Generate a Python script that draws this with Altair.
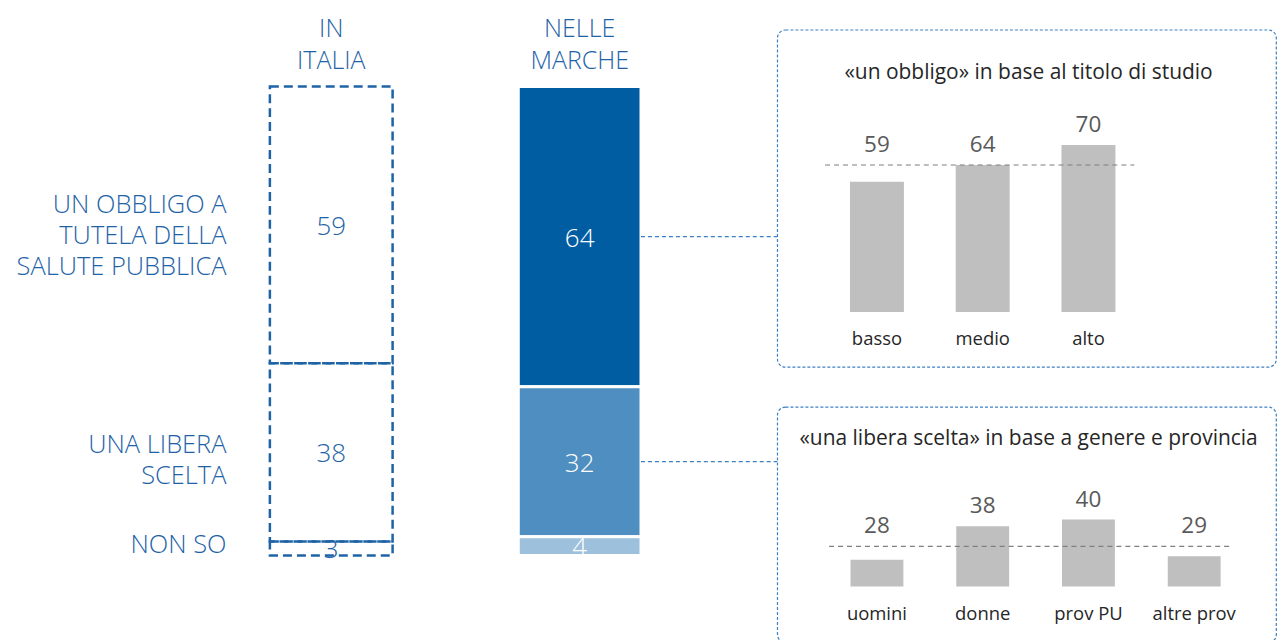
import altair as alt
import pandas as pd

# ---------------- data ----------------
groups = ["IN ITALIA", "NELLE MARCHE"]
answers = ["obbligo", "libera", "nonso"]
answer_labels = ["UN OBBLIGO A\nTUTELA DELLA\nSALUTE PUBBLICA", "UNA LIBERA\nSCELTA", "NON SO"]
italia_vals = [59, 38, 3]
marche_vals = [64, 32, 4]

edu_cats = ["basso", "medio", "alto"]
edu_vals = [59, 64, 70]
edu_title = "«un obbligo» in base al titolo di studio"

gp_cats = ["uomini", "donne", "prov PU", "altre prov"]
gp_vals = [28, 38, 40, 29]
gp_title = "«una libera scelta» in base a genere e provincia"

# ---------------- style ----------------
BLUE = "#1f63a7"
MARCHE_COLORS = ["#005da2", "#4f8ec0", "#9dc0dd"]
BOX = "#3d80c3"
GREY_BAR = "#bfbfbf"
FONT = "Open Sans"
BIG = 26
HEAD_FS = 25
LABEL_FS = 25.5
LABEL_LH = 31
HEAD_LH = 32


def stacked(group, vals):
    rows = []
    acc = 0
    for a, lab, v in zip(answers, answer_labels, vals):
        rows.append(dict(group=group, answer=a, label=lab, value=v,
                         start=acc, end=acc + v, mid=acc + v / 2))
        acc += v
    return pd.DataFrame(rows)


ita = stacked(groups[0], italia_vals)
mar = stacked(groups[1], marche_vals)

# ---------------- left part ----------------
LEFT_W = 770
LEFT_H = 547
PX = 4.7
xs = alt.Scale(domain=groups, range=[198.5, 696.5], paddingInner=0.506, paddingOuter=0.253)
ys = alt.Scale(domain=[-77 / PX, 100], reverse=True, nice=False, zero=False)

ita_bars = alt.Chart(ita).mark_bar(
    fill="transparent", stroke=BLUE, strokeWidth=2.5, strokeDash=[9, 5]
).encode(
    x=alt.X("group:N", scale=xs, axis=None),
    y=alt.Y("start:Q", scale=ys, axis=None),
    y2="end:Q",
)

mar_bars = alt.Chart(mar).mark_bar(stroke="white", strokeWidth=3).encode(
    x=alt.X("group:N"),
    y=alt.Y("start:Q"),
    y2="end:Q",
    color=alt.Color("answer:N", scale=alt.Scale(domain=answers, range=MARCHE_COLORS), legend=None),
)

ita_txt = alt.Chart(ita).mark_text(
    fontSize=BIG, color=BLUE, font=FONT, fontWeight=300, baseline="middle", dy=2
).encode(x="group:N", y="mid:Q", text="value:Q")

mar_txt = alt.Chart(mar).mark_text(
    fontSize=BIG, color="white", font=FONT, fontWeight=300, baseline="middle", dy=2
).encode(x="group:N", y="mid:Q", text="value:Q")

headers = alt.Chart(pd.DataFrame({"group": groups})).mark_text(
    fontSize=HEAD_FS, lineBreak=" ", lineHeight=HEAD_LH, color=BLUE, font=FONT, fontWeight=300,
    baseline="middle", dy=-HEAD_LH / 2
).encode(x="group:N", y=alt.value(35), text="group:N")

row_label_layers = []
for a, lab in zip(answers, answer_labels):
    n_lines = lab.count("\n") + 1
    row_label_layers.append(
        alt.Chart(mar[mar.answer == a]).mark_text(
            align="right", baseline="middle", lineBreak="\n", lineHeight=LABEL_LH,
            fontSize=LABEL_FS, color=BLUE, font=FONT, fontWeight=300,
            dy=-(n_lines - 1) * LABEL_LH / 2 - 1
        ).encode(x=alt.value(218), y="mid:Q", text="label:N")
    )

connectors = alt.Chart(mar[mar.answer != "nonso"]).mark_rule(
    color=BOX, strokeDash=[4, 3], strokeWidth=1.2
).encode(
    x=alt.X("group:N", bandPosition=1),
    x2=alt.value(LEFT_W),
    y="mid:Q",
)

left = alt.layer(
    ita_bars, mar_bars, connectors, ita_txt, mar_txt, headers, *row_label_layers
).properties(width=LEFT_W, height=LEFT_H)

# ---------------- right panels ----------------
K = 3.35
BASE = 20
PANEL_VIEW = alt.ViewBackground(stroke=BOX, strokeDash=[3, 2], strokeWidth=1.2, cornerRadius=8)


def panel(cats, vals, ref, title, height, base_px, label_px, x_range, p_in, rule_x, title_y):
    df = pd.DataFrame({"cat": cats, "v": vals})
    dom = [BASE - (height - base_px) / K, BASE + base_px / K]
    x = alt.X(
        "cat:N", sort=cats,
        scale=alt.Scale(domain=cats, range=x_range, paddingInner=p_in, paddingOuter=p_in / 2),
        axis=alt.Axis(title=None, orient="bottom", offset=label_px - height, domain=False, ticks=False,
                      tickSize=0, labelPadding=0, labelBaseline="middle", labelAngle=0,
                      labelFont=FONT, labelFontSize=18.5, labelColor="#262626"),
    )
    y = alt.Y("v:Q", scale=alt.Scale(domain=dom, nice=False, zero=False), axis=None)
    bars = alt.Chart(df).mark_bar(color=GREY_BAR).encode(x=x, y=y, y2=alt.datum(BASE))
    labels = alt.Chart(df).transform_calculate(
        lab=f"max(datum.v, {ref})"
    ).mark_text(fontSize=22.5, color="#595959", font=FONT, dy=-20, baseline="middle").encode(
        x=alt.X("cat:N", sort=cats), y=alt.Y("lab:Q"), text="v:Q"
    )
    rule = alt.Chart(pd.DataFrame({"ref": [ref]})).mark_rule(
        color="#7f7f7f", strokeDash=[5, 4], strokeWidth=1.2
    ).encode(x=alt.value(rule_x[0]), x2=alt.value(rule_x[1]), y=alt.Y("ref:Q"))
    ttl = alt.Chart(pd.DataFrame({"t": [title]})).mark_text(
        fontSize=21, color="#262626", font=FONT, baseline="middle"
    ).encode(x=alt.value(252), y=alt.value(title_y), text="t:N")
    return alt.layer(bars, rule, labels, ttl).properties(width=500, height=height, view=PANEL_VIEW)


top = panel(edu_cats, edu_vals, marche_vals[0], edu_title, 338, 283, 310, [47, 365], 0.49, (48, 358), 43)
bottom = panel(gp_cats, gp_vals, marche_vals[1], gp_title, 236, 180, 207, [47, 471], 0.5, (52, 454), 32)

spacer = alt.Chart(pd.DataFrame({"s": [0]})).mark_point(opacity=0, size=0).encode(
    x=alt.value(0), y=alt.value(0)
).properties(width=500, height=20)

right = alt.vconcat(spacer, alt.vconcat(top, bottom, spacing=40, bounds="flush"), spacing=0, bounds="flush")

chart = alt.hconcat(left, right, spacing=0, bounds="flush").properties(padding=0).configure_view(
    stroke="transparent"
)

chart.save("out.html", embed_options={"renderer": "svg", "actions": False})
